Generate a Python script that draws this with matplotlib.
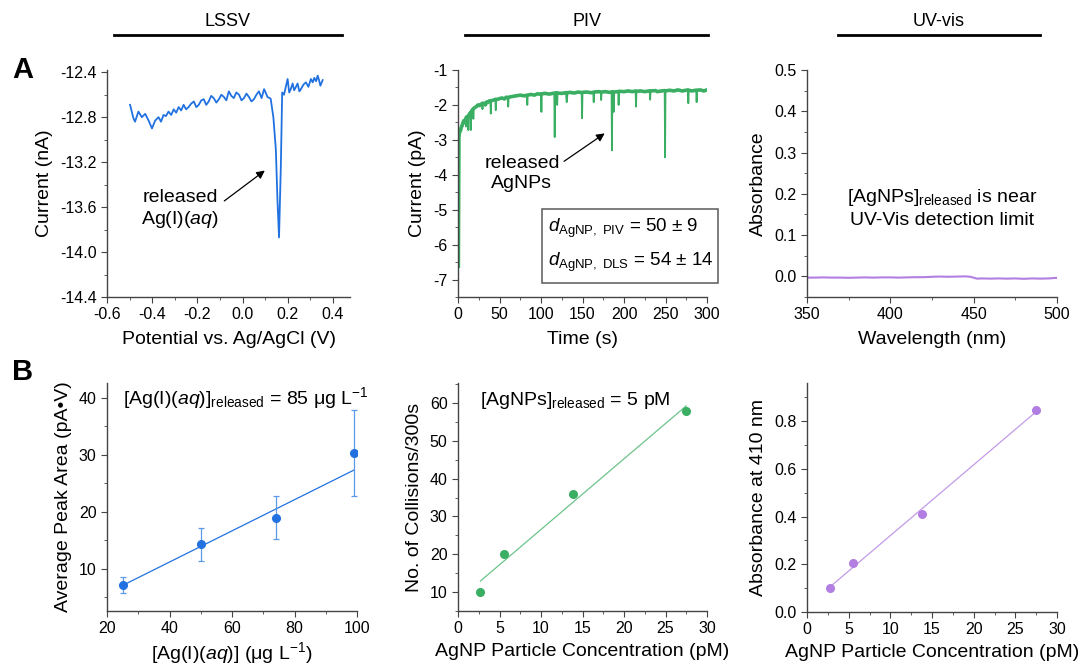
import matplotlib
matplotlib.use("Agg")
import matplotlib.pyplot as plt
import numpy as np
from matplotlib.lines import Line2D
from matplotlib.patches import Rectangle
from matplotlib.ticker import MultipleLocator

plt.rcParams['font.family'] = ['Liberation Sans', 'DejaVu Sans']
plt.rcParams['mathtext.fontset'] = 'custom'
plt.rcParams['mathtext.rm'] = 'Liberation Sans'
plt.rcParams['mathtext.it'] = 'Liberation Sans:italic'
plt.rcParams['mathtext.bf'] = 'Liberation Sans:bold'
plt.rcParams['axes.unicode_minus'] = False

BLUE = "#2172e0"
GREEN = "#3aae62"
PURPLE = "#b27ee2"

# --- LSSV scan ---
lssv_v = [-0.498, -0.483, -0.476, -0.461, -0.446, -0.431, -0.416, -0.401, -0.387, -0.372,
          -0.361, -0.350, -0.339, -0.328, -0.316, -0.305, -0.294, -0.283, -0.272, -0.261,
          -0.250, -0.239, -0.228, -0.216, -0.205, -0.194, -0.183, -0.172, -0.161, -0.150,
          -0.139, -0.128, -0.116, -0.105, -0.094, -0.083, -0.072, -0.061, -0.050, -0.039,
          -0.028, -0.016, -0.005, 0.006, 0.017, 0.028, 0.039, 0.050, 0.061, 0.072, 0.084,
          0.095, 0.110, 0.124, 0.136, 0.147, 0.154, 0.161, 0.169, 0.175, 0.183, 0.191,
          0.199, 0.206, 0.213, 0.221, 0.228, 0.236, 0.243, 0.251, 0.258, 0.269, 0.280,
          0.291, 0.302, 0.310, 0.317, 0.325, 0.332, 0.338, 0.344, 0.354]
lssv_i = [-12.69, -12.81, -12.84, -12.75, -12.80, -12.77, -12.83, -12.90, -12.83, -12.80,
          -12.84, -12.78, -12.79, -12.75, -12.78, -12.73, -12.76, -12.71, -12.74, -12.69,
          -12.73, -12.71, -12.68, -12.66, -12.71, -12.69, -12.65, -12.64, -12.69, -12.66,
          -12.61, -12.63, -12.67, -12.64, -12.60, -12.62, -12.65, -12.57, -12.61, -12.63,
          -12.58, -12.60, -12.65, -12.63, -12.59, -12.62, -12.66, -12.64, -12.60, -12.57,
          -12.63, -12.55, -12.62, -12.635, -12.80, -13.09, -13.53, -13.87, -13.24, -12.58,
          -12.60, -12.53, -12.46, -12.58, -12.55, -12.50, -12.56, -12.53, -12.50, -12.57,
          -12.55, -12.51, -12.49, -12.53, -12.46, -12.49, -12.45, -12.48, -12.43, -12.47,
          -12.52, -12.47]

# --- PIV trace (current vs time, collision spikes included) ---
piv_t = [0, 1.5, 2.2, 3, 4, 5, 6, 7, 8, 9, 9.5, 10, 11, 12, 12.5, 13, 14, 15, 15.5, 16,
         17, 18, 18.5, 19, 20, 22, 24, 26, 28, 29, 29.5, 30, 32, 33, 34, 36, 38, 39, 39.5,
         40, 43, 45, 45.5, 46, 50, 53, 56, 58, 60, 60.5, 61, 65, 70, 75, 80, 83, 83.5, 84,
         88, 92, 96, 100, 100.5, 101, 105, 110, 116, 116.5, 117, 119, 119.5, 120, 125, 130,
         131, 132, 135, 140, 145, 149, 149.5, 150, 155, 160, 163, 163.5, 164, 170, 172,
         172.5, 173, 178, 182, 185, 185.5, 186, 187, 187.5, 188, 193, 193.5, 194, 200, 205,
         210, 214, 214.5, 215, 220, 225, 230, 231, 231.5, 232, 238, 240, 245, 249, 249.5,
         250, 255, 260, 265, 270, 275, 277, 277.5, 278, 282, 286, 287, 287.5, 288, 292,
         296, 300]
piv_i = [-2.95, -6.65, -2.90, -2.70, -2.75, -2.58, -2.60, -2.45, -2.50, -2.44, -2.62,
         -2.35, -2.40, -2.32, -2.72, -2.30, -2.25, -2.22, -2.72, -2.22, -2.15, -2.12, -2.40,
         -2.10, -2.08, -2.05, -2.00, -2.02, -1.98, -1.96, -2.12, -1.95, -1.97, -2.00, -1.92,
         -1.93, -1.88, -1.89, -2.25, -1.88, -1.86, -1.84, -2.15, -1.85, -1.82, -1.80, -1.83,
         -1.78, -1.79, -2.05, -1.78, -1.76, -1.74, -1.72, -1.74, -1.72, -2.00, -1.72, -1.70,
         -1.72, -1.68, -1.70, -2.20, -1.68, -1.67, -1.69, -1.66, -2.92, -1.68, -1.65, -2.00,
         -1.66, -1.67, -1.65, -1.92, -1.65, -1.64, -1.66, -1.63, -1.65, -2.38, -1.64, -1.63,
         -1.65, -1.64, -1.92, -1.63, -1.62, -1.63, -1.86, -1.63, -1.62, -1.64, -1.63, -3.30,
         -1.62, -1.63, -2.20, -1.63, -1.62, -2.00, -1.61, -1.62, -1.60, -1.62, -1.60, -2.05,
         -1.61, -1.60, -1.62, -1.60, -1.61, -1.85, -1.60, -1.59, -1.62, -1.60, -1.59, -3.50,
         -1.60, -1.58, -1.60, -1.57, -1.60, -1.58, -1.57, -1.95, -1.58, -1.60, -1.58, -1.59,
         -1.92, -1.58, -1.57, -1.60, -1.57]

# --- UV-vis spectrum ---
uv_nm = [350, 355, 360, 365, 370, 375, 380, 385, 390, 395, 400, 405, 410, 415, 420, 425,
         430, 435, 440, 445, 448, 452, 455, 460, 465, 470, 475, 480, 485, 490, 495, 500]
uv_abs = [-0.003, -0.003, -0.0025, -0.003, -0.003, -0.0035, -0.003, -0.0025, -0.003,
          -0.0025, -0.0025, -0.003, -0.0025, -0.002, -0.002, -0.001, -0.0005, -0.001,
          -0.0005, 0.0, -0.001, -0.0055, -0.005, -0.0055, -0.005, -0.0055, -0.005, -0.006,
          -0.005, -0.0055, -0.005, -0.0035]

# --- calibration data ---
ag_conc = [25, 50, 74, 99]
ag_area = [7.1, 14.3, 19.0, 30.3]
ag_err = [1.4, 2.9, 3.8, 7.5]

np_conc = [2.7, 5.5, 13.8, 27.5]
np_collisions = [10, 20, 36, 58]
np_absorbance = [0.10, 0.205, 0.41, 0.848]

W, H = 1085, 666
FS = 14
fig = plt.figure(figsize=(W / 100, H / 100), dpi=100)


def make_axes(left, right, top, bottom):
    ax = fig.add_axes([left / W, 1 - bottom / H, (right - left) / W, (bottom - top) / H])
    for side in ("top", "right"):
        ax.spines[side].set_visible(False)
    for side in ("left", "bottom"):
        ax.spines[side].set_color("#444444")
        ax.spines[side].set_linewidth(1.0)
    ax.tick_params(which="both", direction="out", colors="#444444", labelcolor="black",
                   labelsize=11.5)
    ax.tick_params(which="major", length=4)
    ax.tick_params(which="minor", length=2.5)
    return ax


# row A
ax1 = make_axes(107, 350, 70, 297)
ax1.plot(lssv_v, lssv_i, color=BLUE, lw=1.3)
ax1.set_xlim(-0.6, 0.475)
ax1.set_ylim(-14.4, -12.38)
ax1.set_xticks(np.arange(-0.6, 0.41, 0.2))
ax1.set_xticklabels(["-0.6", "-0.4", "-0.2", "0.0", "0.2", "0.4"])
ax1.set_yticks(np.arange(-14.4, -12.39, 0.4))
ax1.set_yticklabels(["-14.4", "-14.0", "-13.6", "-13.2", "-12.8", "-12.4"])
ax1.xaxis.set_minor_locator(MultipleLocator(0.1))
ax1.yaxis.set_minor_locator(MultipleLocator(0.2))
ax1.set_xlabel("Potential vs. Ag/AgCl (V)", fontsize=FS, labelpad=6)
ax1.set_ylabel("Current (nA)", fontsize=FS, labelpad=5)
ax1.annotate("", xy=(0.108, -13.26), xytext=(-0.091, -13.56),
             arrowprops=dict(arrowstyle="-|>", color="black", lw=0.9, mutation_scale=12))
ax1.text(-0.277, -13.62, "released\nAg(I)($\\it{aq}$)", ha="center", va="center",
         fontsize=FS, linespacing=1.2)

ax2 = make_axes(458, 707, 70, 297)
# thin trace carries the collision spikes, thicker pass over the baseline gives the noise band
ax2.plot(piv_t, piv_i, color=GREEN, lw=1.3)
pi = np.array(piv_i)
neigh = np.maximum(np.r_[pi[1:], pi[-1]], np.r_[pi[0], pi[:-1]])
base = pi > neigh - 0.15
ax2.plot(np.array(piv_t)[base], pi[base], color=GREEN, lw=2.6)
ax2.set_xlim(0, 300)
ax2.set_ylim(-7.5, -1)
ax2.set_xticks(np.arange(0, 301, 50))
ax2.set_yticks(np.arange(-7, -0.9, 1))
ax2.xaxis.set_minor_locator(MultipleLocator(25))
ax2.yaxis.set_minor_locator(MultipleLocator(0.5))
ax2.set_xlabel("Time (s)", fontsize=FS, labelpad=6)
ax2.set_ylabel("Current (pA)", fontsize=FS, labelpad=5)
ax2.annotate("", xy=(179.5, -2.77), xytext=(125, -3.66),
             arrowprops=dict(arrowstyle="-|>", color="black", lw=0.9, mutation_scale=12))
ax2.text(77, -3.97, "released\nAgNPs", ha="center", va="center", fontsize=FS,
         linespacing=1.2)
ax2.add_patch(Rectangle((0.337, 0.062), 0.707, 0.326, transform=ax2.transAxes,
                        fill=False, edgecolor="#666666", lw=1.2, clip_on=False))
ax2.text(0.36, 0.304, "$\\it{d}_{\\mathrm{AgNP,\\ PIV}}$ = 50 ± 9", transform=ax2.transAxes,
         ha="left", va="center", fontsize=13.5)
ax2.text(0.36, 0.154, "$\\it{d}_{\\mathrm{AgNP,\\ DLS}}$ = 54 ± 14", transform=ax2.transAxes,
         ha="left", va="center", fontsize=13.5)

ax3 = make_axes(807, 1057, 70, 297)
ax3.plot(uv_nm, uv_abs, color=PURPLE, lw=1.5)
ax3.set_xlim(350, 500)
ax3.set_ylim(-0.05, 0.5)
ax3.set_xticks(np.arange(350, 501, 50))
ax3.set_yticks(np.arange(0, 0.51, 0.1))
ax3.set_yticklabels(["0.0", "0.1", "0.2", "0.3", "0.4", "0.5"])
ax3.xaxis.set_minor_locator(MultipleLocator(25))
ax3.yaxis.set_minor_locator(MultipleLocator(0.05))
ax3.set_xlabel("Wavelength (nm)", fontsize=FS, labelpad=6)
ax3.set_ylabel("Absorbance", fontsize=FS, labelpad=5)
ax3.text(0.54, 0.44, "[AgNPs]$_{\\mathrm{released}}$ is near", transform=ax3.transAxes,
         ha="center", va="center", fontsize=FS)
ax3.text(0.54, 0.339, "UV-Vis detection limit", transform=ax3.transAxes,
         ha="center", va="center", fontsize=FS)

# row B: calibration curves with linear fits
ax4 = make_axes(107, 357, 383, 611)
ag_fit = np.polyfit(ag_conc, ag_area, 1, w=1 / np.array(ag_err))
ax4.plot([ag_conc[0], ag_conc[-1]], np.polyval(ag_fit, [ag_conc[0], ag_conc[-1]]),
         color=BLUE, lw=0.9)
ax4.errorbar(ag_conc, ag_area, yerr=ag_err, fmt="o", color=BLUE, ms=5.5, elinewidth=0.9,
             ecolor="#5a9ae8", capsize=2.5, capthick=0.9)
ax4.set_xlim(20, 100)
ax4.set_ylim(2.6, 42.6)
ax4.set_xticks(np.arange(20, 101, 20))
ax4.set_yticks(np.arange(10, 41, 10))
ax4.xaxis.set_minor_locator(MultipleLocator(10))
ax4.yaxis.set_minor_locator(MultipleLocator(5))
ax4.set_xlabel("[Ag(I)($\\it{aq}$)] (μg L$^{-1}$)", fontsize=FS, labelpad=3)
ax4.set_ylabel("Average Peak Area (pA•V)", fontsize=FS, labelpad=5)
ax4.text(0.064, 0.934, "[Ag(I)($\\it{aq}$)]$_{\\mathrm{released}}$ = 85 μg L$^{-1}$",
         transform=ax4.transAxes, ha="left", va="center", fontsize=FS, clip_on=False)

ax5 = make_axes(458, 707, 383, 611)
np_fit = np.polyfit(np_conc, np_collisions, 1)
ax5.plot([np_conc[0], np_conc[-1]], np.polyval(np_fit, [np_conc[0], np_conc[-1]]),
         color="#6cc48a", lw=0.9)
ax5.plot(np_conc, np_collisions, "o", color=GREEN, ms=5.5)
ax5.set_xlim(0, 30)
ax5.set_ylim(5, 65.3)
ax5.set_xticks(np.arange(0, 31, 5))
ax5.set_yticks(np.arange(10, 61, 10))
ax5.xaxis.set_minor_locator(MultipleLocator(2.5))
ax5.yaxis.set_minor_locator(MultipleLocator(5))
ax5.set_xlabel("AgNP Particle Concentration (pM)", fontsize=FS, labelpad=5)
ax5.set_ylabel("No. of Collisions/300s", fontsize=FS, labelpad=5)
ax5.text(0.088, 0.925, "[AgNPs]$_{\\mathrm{released}}$ = 5 pM", transform=ax5.transAxes,
         ha="left", va="center", fontsize=FS)

ax6 = make_axes(807, 1057, 383, 612)
abs_fit = np.polyfit(np_conc, np_absorbance, 1)
ax6.plot([np_conc[0], np_conc[-1]], np.polyval(abs_fit, [np_conc[0], np_conc[-1]]),
         color="#c39ae8", lw=0.9)
ax6.plot(np_conc, np_absorbance, "o", color=PURPLE, ms=5.5)
ax6.set_xlim(0, 30)
ax6.set_ylim(0, 0.96)
ax6.set_xticks(np.arange(0, 31, 5))
ax6.set_yticks(np.arange(0, 0.81, 0.2))
ax6.set_yticklabels(["0.0", "0.2", "0.4", "0.6", "0.8"])
ax6.xaxis.set_minor_locator(MultipleLocator(2.5))
ax6.yaxis.set_minor_locator(MultipleLocator(0.1))
ax6.set_xlabel("AgNP Particle Concentration (pM)", fontsize=FS, labelpad=5)
ax6.set_ylabel("Absorbance at 410 nm", fontsize=FS, labelpad=5)

# column headers with rules underneath
headers = [("LSSV", 114, 342), ("PIV", 465, 708), ("UV-vis", 838, 1040)]
for name, x0, x1 in headers:
    fig.add_artist(Line2D([x0 / W, x1 / W], [1 - 35 / H, 1 - 35 / H], color="black", lw=2))
    fig.text((x0 + x1) / 2 / W, 1 - 22 / H, name, ha="center", va="center", fontsize=13,
             family=["Liberation Sans Narrow", "Liberation Sans"])

fig.text(23 / W, 1 - 70 / H, "A", ha="center", va="center", fontsize=21, fontweight="bold")
fig.text(23 / W, 1 - 372 / H, "B", ha="center", va="center", fontsize=21, fontweight="bold")

fig.savefig("out.png", dpi=100)
